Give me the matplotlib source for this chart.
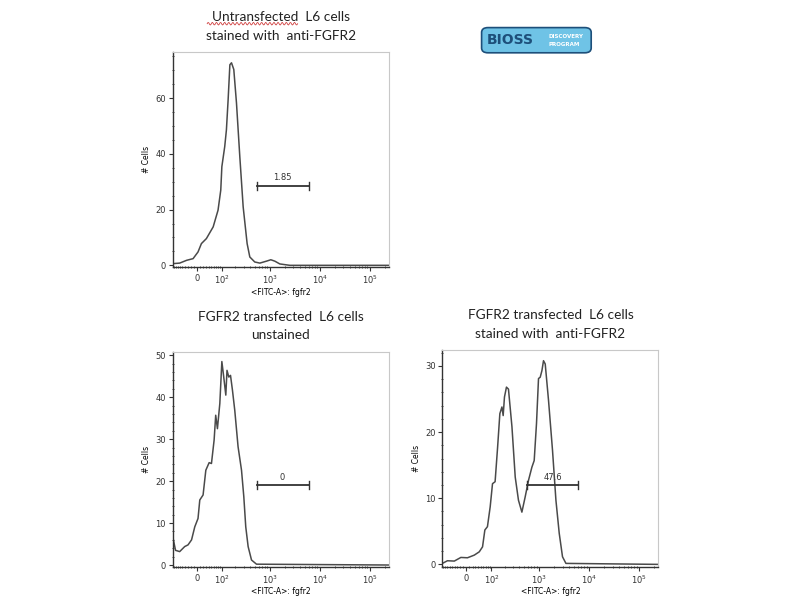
import numpy as np
import matplotlib.pyplot as plt
from matplotlib.patches import FancyBboxPatch
from matplotlib.lines import Line2D
from matplotlib.ticker import MultipleLocator, FixedLocator

plt.rcParams['font.family'] = ['Lato', 'DejaVu Sans']

# FITC values (biexponential display) and cell counts
untr_x = [-94, -61, -34, -12, 4, 15, 32, 58, 80, 94, 100, 117, 128, 140, 153, 166,
          186, 212, 249, 292, 352, 399, 503, 636, 866, 1057, 1271, 1600, 2540, 242000]
untr_y = [0.6, 0.8, 1.8, 2.4, 4.8, 7.8, 9.6, 13.8, 19.8, 27, 35.4, 42.6, 48.6, 59.5, 72, 72.7,
          70.3, 58.3, 39, 21, 7.8, 3, 1.2, 0.8, 1.5, 2.0, 1.5, 0.5, 0, 0]

unst_x = [-94, -80, -61, -41, -29, -17, -6.5, 4, 9.7, 20.6, 30, 42, 51, 62, 69, 77, 89,
          100, 111, 124, 132, 145, 158, 174, 195, 229, 270, 301, 330, 369, 432, 545, 242000]
unst_y = [6.7, 3.5, 3.2, 4.4, 4.8, 6.0, 9.1, 11.1, 15.5, 16.7, 22.6, 24.4, 24.2, 29.8, 35.7, 32.5, 38.5,
          48.5, 44.8, 40.5, 46.4, 44.8, 45.2, 41.7, 36.9, 28.2, 22.6, 16.3, 9.1, 4.4, 1.2, 0.2, 0]

stain_x = [-94, -69, -41, -18, 3.5, 26, 44, 57, 67, 79, 93, 106, 122, 139, 156, 173, 184, 196,
           216, 238, 281, 328, 382, 448, 522, 609, 713, 793, 882, 968, 1047, 1133, 1219, 1319,
           1536, 1848, 2160, 2515, 2926, 3424, 242000]
stain_y = [0.15, 0.55, 0.5, 1.05, 1.0, 1.4, 1.9, 2.65, 5.2, 5.7, 8.7, 12.2, 12.5, 17.7, 22.8, 23.8, 22.5, 25.3,
           26.8, 26.5, 20.8, 13.2, 9.7, 7.9, 10.2, 12.7, 14.7, 15.7, 21.3, 28.1, 28.3, 29.3, 30.8, 30.3,
           24.8, 17.2, 9.7, 4.7, 1.15, 0.15, 0]

# gates: (low, high, height, label)
gate_untr = (550, 6000, 28.5, '1.85')
gate_unst = (550, 6000, 19, '0')
gate_stain = (560, 6100, 12, '47.6')

titles = ['Untransfected  L6 cells\nstained with  anti-FGFR2',
          'FGFR2 transfected  L6 cells\nunstained',
          'FGFR2 transfected  L6 cells\nstained with  anti-FGFR2']

major_x = [0, 1e2, 1e3, 1e4, 1e5]
major_lbl = ['0', '$10^2$', '$10^3$', '$10^4$', '$10^5$']
minor_x = ([-m * 10 for m in range(1, 10)] + [m * 10 for m in range(1, 10)] +
           [m * 10 ** k for k in (2, 3, 4, 5) for m in range(2, 10)])


def fwd(x):
    return np.arcsinh(np.asarray(x, float) / 70) / np.log(10)


def inv(y):
    return 70 * np.sinh(np.asarray(y, float) * np.log(10))


def panel(ax, xs, ys, gate, ylim, ymaj, ymin, title):
    ax.set_xscale('function', functions=(fwd, inv))
    ax.plot(xs, ys, color='#4a4a4a', lw=1.1)
    lo, hi, h, lbl = gate
    ax.plot([lo, hi], [h, h], color='#333333', lw=1.3)
    cap = (ylim[1] - ylim[0]) * 0.018
    ax.plot([lo, lo], [h - cap, h + cap], color='#333333', lw=1.0)
    ax.plot([hi, hi], [h - cap, h + cap], color='#333333', lw=1.0)
    mid = inv((fwd(lo) + fwd(hi)) / 2)
    ax.text(mid, h + cap * 0.9, lbl, ha='center', va='bottom', fontsize=6,
            family='DejaVu Sans', color='#333333')
    ax.set_xlim(-94, 242000)
    ax.set_ylim(*ylim)
    ax.xaxis.set_major_locator(FixedLocator(major_x))
    ax.set_xticklabels(major_lbl)
    ax.xaxis.set_minor_locator(FixedLocator(minor_x))
    ax.yaxis.set_major_locator(MultipleLocator(ymaj))
    ax.yaxis.set_minor_locator(MultipleLocator(ymin))
    ax.tick_params(which='major', length=3, width=0.8, labelsize=6, pad=2,
                   colors='#333333')
    ax.tick_params(which='minor', length=1.5, width=0.6, direction='inout',
                   colors='#333333')
    for lab in ax.get_xticklabels() + ax.get_yticklabels():
        lab.set_family('DejaVu Sans')
    for s in ('top', 'right'):
        ax.spines[s].set_color('#c8c8c8')
        ax.spines[s].set_linewidth(0.8)
    for s in ('left', 'bottom'):
        ax.spines[s].set_color('#333333')
        ax.spines[s].set_linewidth(1.0)
    ax.set_ylabel('# Cells', fontsize=5.5, family='DejaVu Sans', labelpad=3)
    ax.set_xlabel('<FITC-A>: fgfr2', fontsize=5.5, family='DejaVu Sans', labelpad=1)
    ax.set_title(title, fontsize=9.8, pad=9, color='#222222', linespacing=1.65)


fig = plt.figure(figsize=(8, 6), dpi=100)
ax1 = fig.add_axes([0.216, 0.555, 0.27, 0.358])
ax2 = fig.add_axes([0.216, 0.0555, 0.27, 0.358])
ax3 = fig.add_axes([0.553, 0.0555, 0.27, 0.361])

panel(ax1, untr_x, untr_y, gate_untr, (-0.6, 76.5), 20, 5, titles[0])
panel(ax2, unst_x, unst_y, gate_unst, (-0.4, 50.8), 10, 2, titles[1])
panel(ax3, stain_x, stain_y, gate_stain, (-0.35, 32.4), 10, 2, titles[2])

# spell-check squiggle under "Untransfected"
t = np.linspace(0, 1, 120)
fig.add_artist(Line2D(0.259 + 0.113 * t, 0.9605 + 0.0022 * np.sin(t * 2 * np.pi * 22),
                      transform=fig.transFigure, color='#d04040', lw=0.6))

# Bioss logo
fig.patches.append(FancyBboxPatch((0.604, 0.914), 0.133, 0.038,
                                  boxstyle='round,pad=0.002,rounding_size=0.008',
                                  transform=fig.transFigure, facecolor='#6fc3e6',
                                  edgecolor='#1d4f7a', lw=1.2))
fig.text(0.608, 0.933, 'BIOSS', fontsize=10, weight='bold', color='#1d4f7a',
         va='center', ha='left', family='DejaVu Sans')
fig.text(0.686, 0.939, 'DISCOVERY', fontsize=4, weight='bold', color='white',
         va='center', ha='left', family='DejaVu Sans')
fig.text(0.686, 0.926, 'PROGRAM', fontsize=4, weight='bold', color='white',
         va='center', ha='left', family='DejaVu Sans')

fig.savefig('out.png', dpi=100)
